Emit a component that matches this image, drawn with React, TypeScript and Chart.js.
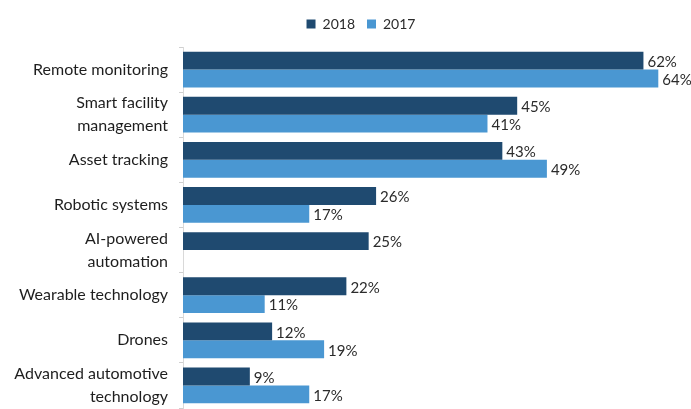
import React, { useEffect, useRef } from "react";
import { Chart, registerables } from "chart.js";

Chart.register(...registerables);

const categories: (string | string[])[] = [
  "Remote monitoring",
  ["Smart facility", "management"],
  "Asset tracking",
  "Robotic systems",
  ["AI-powered", "automation"],
  "Wearable technology",
  "Drones",
  ["Advanced automotive", "technology"],
];
const values2018: (number | null)[] = [62, 45, 43, 26, 25, 22, 12, 9];
const values2017: (number | null)[] = [64, 41, 49, 17, null, 11, 19, 17];
const seriesNames = ["2018", "2017"];

const FONT = "Lato, 'Open Sans', 'Liberation Sans', sans-serif";

const labelPlugin = {
  id: "barLabels",
  afterDatasetsDraw(chart: any) {
    const ctx = chart.ctx;
    ctx.save();
    ctx.font = `15px ${FONT}`;
    ctx.fillStyle = "#2b2b2b";
    ctx.textAlign = "left";
    ctx.textBaseline = "middle";
    chart.data.datasets.forEach((ds: any, i: number) => {
      const meta = chart.getDatasetMeta(i);
      meta.data.forEach((el: any, j: number) => {
        const v = ds.data[j];
        if (v === null || v === undefined) return;
        ctx.fillText(`${v}%`, el.x + 4, el.y + 1.5);
      });
    });
    ctx.restore();
  },
};

const legendShift = {
  id: "legendShift",
  afterLayout(chart: any) {
    const lg = chart.legend;
    if (!lg) return;
    const dx = 361 - (lg.left + lg.right) / 2;
    lg.left += dx;
    lg.right += dx;
    lg.top -= 6;
    lg.bottom -= 6;
  },
};

export default function App() {
  const ref = useRef<HTMLCanvasElement>(null);
  useEffect(() => {
    if (!ref.current) return;
    const chart = new Chart(ref.current, {
      type: "bar",
      data: {
        labels: categories,
        datasets: [
          {
            label: seriesNames[0],
            data: values2018,
            backgroundColor: "#1f4a70",
            borderWidth: 0,
            categoryPercentage: 0.79,
            barPercentage: 1,
          },
          {
            label: seriesNames[1],
            data: values2017,
            backgroundColor: "#4a97d2",
            borderWidth: 0,
            categoryPercentage: 0.79,
            barPercentage: 1,
          },
        ],
      },
      options: {
        indexAxis: "y",
        responsive: true,
        maintainAspectRatio: false,
        animation: false,
        layout: { padding: { top: 11, right: 3, left: 0, bottom: 1 } },
        plugins: {
          legend: {
            position: "top",
            labels: {
              boxWidth: 9,
              boxHeight: 9,
              padding: 12,
              color: "#2b2b2b",
              font: { family: FONT, size: 14 },
            },
          },
          tooltip: { enabled: false },
        },
        scales: {
          x: {
            display: false,
            min: 0,
            max: 68,
          },
          y: {
            offset: true,
            border: { display: true, color: "#d9d9d9" },
            grid: {
              display: true,
              offset: true,
              drawOnChartArea: false,
              drawTicks: true,
              tickLength: 4,
              color: "#d0d0d0",
            },
            ticks: {
              autoSkip: false,
              color: "#1e1e1e",
              padding: 11,
              font: { family: FONT, size: 16, lineHeight: 1.42 },
            },
            afterFit(scale: any) {
              scale.width = 183;
              scale.paddingTop = 0;
              scale.paddingBottom = 0;
            },
          },
        },
      },
      plugins: [labelPlugin, legendShift],
    });
    return () => chart.destroy();
  }, []);
  return (
    <div style={{ position: "fixed", left: 0, top: 0, width: 691, height: 409, background: "#fff" }}>
      <canvas ref={ref} />
    </div>
  );
}
